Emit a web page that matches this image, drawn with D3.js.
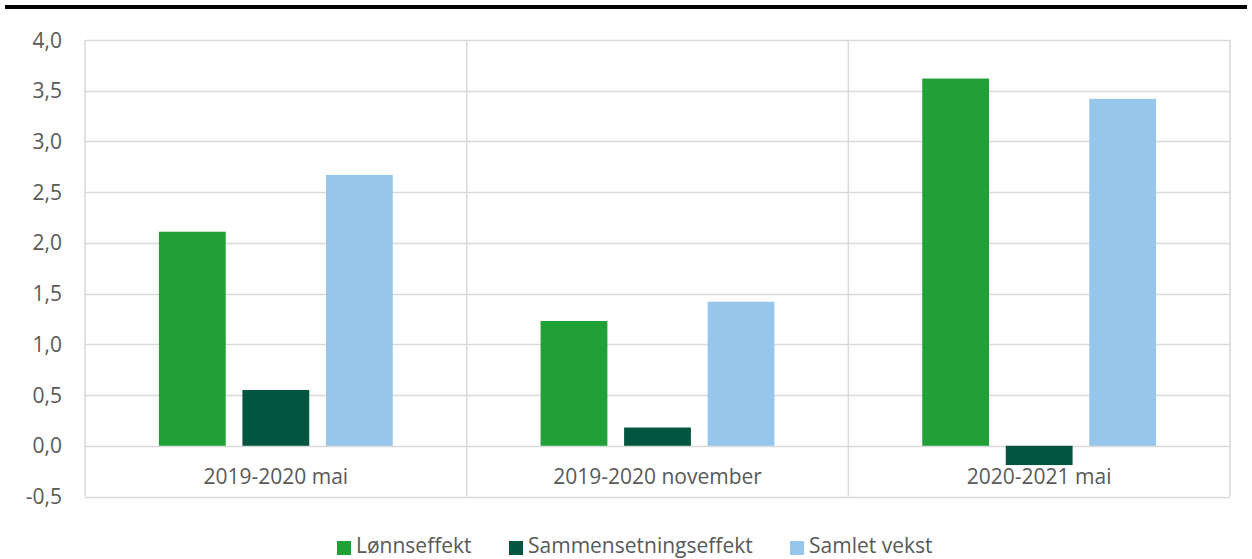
<!DOCTYPE html>
<html>
<head>
<meta charset="utf-8">
<script src="https://cdn.jsdelivr.net/npm/d3@7"></script>
<style>
  html, body { margin: 0; padding: 0; background: #fff; }
  svg { display: block; font-family: "Open Sans", "Noto Sans", sans-serif; }
</style>
</head>
<body>
<svg id="chart" width="1252" height="559"></svg>
<script>
// Periods and the three decomposition series (percent)
const categories = ["2019-2020 mai", "2019-2020 november", "2020-2021 mai"];
const seriesNames = ["Lønnseffekt", "Sammensetningseffekt", "Samlet vekst"];
const lonnseffekt = [2.11, 1.23, 3.62];
const sammensetningseffekt = [0.55, 0.18, -0.19];
const samletVekst = [2.67, 1.42, 3.42];
const yTicks = [-0.5, 0, 0.5, 1, 1.5, 2, 2.5, 3, 3.5, 4];
const colors = ["#21a038", "#02563f", "#96c6ec"];

const seriesValues = [lonnseffekt, sammensetningseffekt, samletVekst];

const svg = d3.select("#chart");
const W = 1252, H = 559;
const margin = { left: 85, right: 22, top: 40, bottom: 62 };
const plotW = W - margin.left - margin.right;
const textColor = "#595959";
const fontSize = 21;

// Heavy rule across the top
svg.append("rect")
  .attr("x", 5).attr("y", 5).attr("width", 1242).attr("height", 4)
  .attr("fill", "#000");

const y = d3.scaleLinear().domain([-0.5, 4]).range([496.5, 40]);
const x0 = d3.scaleBand().domain(categories).range([margin.left, margin.left + plotW]).padding(0);
const x1 = d3.scaleBand().domain(seriesNames).range([0, x0.bandwidth()])
  .paddingInner(0.2).paddingOuter(0.885);

const g = svg.append("g");

// Horizontal gridlines
g.selectAll("line.grid").data(yTicks).join("line")
  .attr("class", "grid")
  .attr("x1", margin.left).attr("x2", margin.left + plotW)
  .attr("y1", d => Math.round(y(d)) + 0.5).attr("y2", d => Math.round(y(d)) + 0.5)
  .attr("stroke", "#d9d9d9").attr("stroke-width", 1.5);

// Vertical category dividers and plot edges
const dividers = categories.map(c => x0(c)).concat([margin.left + plotW]);
g.selectAll("line.div").data(dividers).join("line")
  .attr("class", "div")
  .attr("x1", d => d).attr("x2", d => d)
  .attr("y1", y(4)).attr("y2", y(-0.5))
  .attr("stroke", "#d9d9d9").attr("stroke-width", 1.5);

// Y tick labels (comma decimal, plain hyphen for negatives)
const fmt = d => d3.format(".1f")(d).replace("\u2212", "-").replace(".", ",");
g.selectAll("text.ytick").data(yTicks).join("text")
  .attr("class", "ytick")
  .attr("x", 62).attr("y", d => y(d))
  .attr("dy", "0.36em")
  .attr("text-anchor", "end")
  .attr("font-size", fontSize)
  .attr("fill", textColor)
  .text(fmt);

// Bars
const rows = [];
categories.forEach((c, i) => {
  seriesNames.forEach((s, j) => rows.push({ c, s, j, v: seriesValues[j][i] }));
});
g.selectAll("rect.bar").data(rows).join("rect")
  .attr("class", "bar")
  .attr("x", d => x0(d.c) + x1(d.s))
  .attr("width", x1.bandwidth())
  .attr("y", d => y(Math.max(0, d.v)))
  .attr("height", d => Math.abs(y(d.v) - y(0)))
  .attr("fill", d => colors[d.j]);

// Category labels
g.selectAll("text.cat").data(categories).join("text")
  .attr("class", "cat")
  .attr("x", d => x0(d) + x0.bandwidth() / 2)
  .attr("y", 484)
  .attr("text-anchor", "middle")
  .attr("font-size", fontSize)
  .attr("fill", textColor)
  .text(d => d);

// Legend
const legendX = [337, 509, 790];
const legend = svg.append("g");
seriesNames.forEach((s, j) => {
  legend.append("rect")
    .attr("x", legendX[j]).attr("y", 541)
    .attr("width", 14).attr("height", 14)
    .attr("fill", colors[j]);
  legend.append("text")
    .attr("x", legendX[j] + 19).attr("y", 553)
    .attr("font-size", fontSize)
    .attr("fill", textColor)
    .text(s);
});
</script>
</body>
</html>
